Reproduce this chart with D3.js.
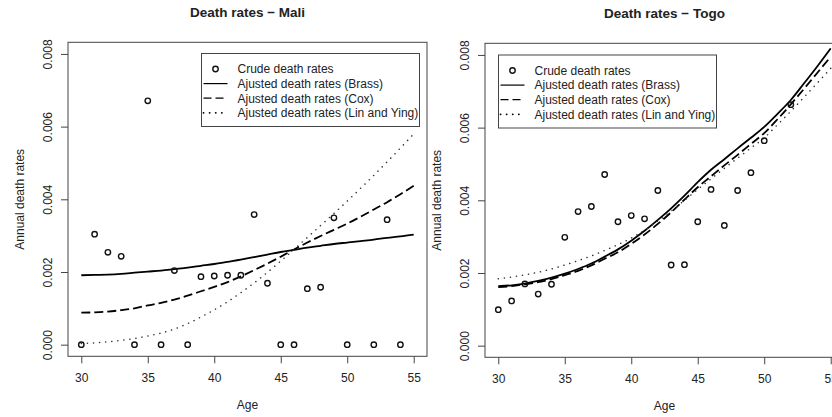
<!DOCTYPE html>
<html>
<head>
<meta charset="utf-8">
<script src="https://cdn.jsdelivr.net/npm/d3@7"></script>
<style>
  body { margin: 0; background: #fff; }
  svg { display: block; font-family: "Liberation Sans", Arial, sans-serif; }
</style>
</head>
<body>
<svg id="chart" width="832" height="417"></svg>
<script>
// ages on the x axis
const ages = d3.range(30, 56);
const xTicks = [30, 35, 40, 45, 50, 55];
const yTicks = [0, 0.002, 0.004, 0.006, 0.008];

// Mali: crude rates (ages with an observed rate) and the three adjusted fits
const maliCrudeAges = [30, 31, 32, 33, 34, 35, 36, 37, 38, 39, 40, 41, 42, 43, 44, 45, 46, 47, 48, 49, 50, 52, 53, 54];
const maliCrude = [0, 0.00304, 0.00254, 0.00243, 0, 0.00671, 0, 0.00204, 0, 0.00187, 0.00189, 0.00191, 0.00191, 0.00358,
  0.00169, 0, 0, 0.00154, 0.00158, 0.00349, 0, 0, 0.00344, 0];
const maliBrass = [0.00191, 0.00192, 0.00193, 0.00195, 0.00198, 0.00201, 0.00204, 0.00208, 0.00212, 0.00217, 0.00222,
  0.00228, 0.00234, 0.00241, 0.00248, 0.00255, 0.00261, 0.00267, 0.00272, 0.00277, 0.00281, 0.00285, 0.00289, 0.00294,
  0.00298, 0.00303];
const maliCox = [0.00088, 0.00089, 0.00091, 0.00095, 0.00100, 0.00108, 0.00115, 0.00124, 0.00135, 0.00147, 0.00159,
  0.00172, 0.00188, 0.00205, 0.00223, 0.00242, 0.00262, 0.00281, 0.00299, 0.00316, 0.00333, 0.00352, 0.00372, 0.00392,
  0.00414, 0.00437];
const maliLinYing = [0.00003, 0.00005, 0.00008, 0.00012, 0.00017, 0.00024, 0.00032, 0.00043, 0.00058, 0.00076, 0.00096,
  0.00118, 0.00143, 0.00170, 0.00199, 0.00230, 0.00262, 0.00295, 0.00328, 0.00361, 0.00395, 0.00430, 0.00466, 0.00503,
  0.00541, 0.00580];

// Togo
const togoCrudeAges = [30, 31, 32, 33, 34, 35, 36, 37, 38, 39, 40, 41, 42, 43, 44, 45, 46, 47, 48, 49, 50, 51, 52];
const togoCrude = [0.00099, 0.00123, 0.00170, 0.00142, 0.00169, 0.00298, 0.00369, 0.00383, 0.00471, 0.00341, 0.00358,
  0.00349, 0.00427, 0.00222, 0.00223, 0.00341, 0.00430, 0.00331, 0.00427, 0.00476, 0.00564, 0.00850, 0.00663];
const togoBrass = [0.00164, 0.00166, 0.00171, 0.00178, 0.00187, 0.00198, 0.00211, 0.00226, 0.00245, 0.00265, 0.00289,
  0.00316, 0.00346, 0.00378, 0.00413, 0.00450, 0.00484, 0.00513, 0.00543, 0.00572, 0.00602, 0.00638, 0.00676, 0.00722,
  0.00769, 0.00818];
const togoCox = [0.00161, 0.00164, 0.00169, 0.00175, 0.00183, 0.00194, 0.00206, 0.00221, 0.00239, 0.00257, 0.00280,
  0.00306, 0.00335, 0.00367, 0.00402, 0.00436, 0.00466, 0.00496, 0.00525, 0.00555, 0.00585, 0.00623, 0.00664, 0.00707,
  0.00751, 0.00795];
const togoLinYing = [0.00184, 0.00189, 0.00195, 0.00202, 0.00211, 0.00222, 0.00234, 0.00247, 0.00262, 0.00278, 0.00296,
  0.00318, 0.00343, 0.00370, 0.00400, 0.00430, 0.00459, 0.00488, 0.00516, 0.00544, 0.00572, 0.00608, 0.00645, 0.00684,
  0.00723, 0.00763];

const legendLabels = ['Crude death rates', 'Ajusted death rates (Brass)', 'Ajusted death rates (Cox)',
  'Ajusted death rates (Lin and Ying)'];

const ink = '#222';
const frame = '#444';
const fontSize = 12;
const lineStyles = [
  { width: 1.8, dash: null },
  { width: 1.8, dash: '9,4' },
  { width: 1.5, dash: '0.1,6', cap: 'round' }
];

const svg = d3.select('#chart');
svg.append('rect').attr('width', 832).attr('height', 417).attr('fill', '#fff');

function drawPanel(p) {
  const x = d3.scaleLinear().domain([29, 56]).range([p.left, p.left + 359]);
  const y = d3.scaleLinear().domain([-0.00032, 0.00832]).range([p.top + 314, p.top]);
  const g = svg.append('g');
  const clipId = 'clip-' + p.id;

  g.append('clipPath').attr('id', clipId)
    .append('rect').attr('x', p.left).attr('y', p.top).attr('width', 359).attr('height', 314);

  // plot frame
  g.append('rect')
    .attr('x', p.left).attr('y', p.top).attr('width', 359).attr('height', 314)
    .attr('fill', 'none').attr('stroke', frame).attr('stroke-width', 1);

  // x axis
  const xa = g.append('g').attr('transform', `translate(0,${p.top + 314})`)
    .call(d3.axisBottom(x).tickValues(xTicks).tickSize(7).tickSizeOuter(0));
  xa.select('.domain').remove();
  xa.selectAll('line').attr('stroke', frame);
  xa.selectAll('text').attr('y', 26).attr('dy', null)
    .attr('font-size', fontSize).attr('fill', ink).attr('font-family', null);

  // y axis with rotated labels, as R draws them
  const ya = g.append('g').attr('transform', `translate(${p.left},0)`)
    .call(d3.axisLeft(y).tickValues(yTicks).tickSize(7).tickSizeOuter(0).tickFormat(d3.format('.3f')));
  ya.select('.domain').remove();
  ya.selectAll('line').attr('stroke', frame);
  ya.selectAll('text').attr('x', null).attr('dy', null)
    .attr('transform', 'translate(-16.3,0) rotate(-90)')
    .attr('text-anchor', 'middle')
    .attr('font-size', fontSize).attr('fill', ink).attr('font-family', null);

  // titles
  g.append('text').attr('x', p.left + 179.5).attr('y', p.top - 25)
    .attr('text-anchor', 'middle').attr('font-size', 13.5).attr('font-weight', 'bold').attr('fill', ink)
    .text(p.title);
  g.append('text').attr('x', p.left + 179.5).attr('y', p.top + 367)
    .attr('text-anchor', 'middle').attr('font-size', fontSize).attr('fill', ink).text('Age');
  g.append('text')
    .attr('transform', `translate(${p.left - 44},${p.top + 157}) rotate(-90)`)
    .attr('text-anchor', 'middle').attr('font-size', fontSize).attr('fill', ink).text('Annual death rates');

  // fitted curves
  const plot = g.append('g').attr('clip-path', `url(#${clipId})`);
  const line = d3.line().x((d, i) => x(ages[i])).y(d => y(d)).curve(d3.curveMonotoneX);
  p.fits.forEach((vals, k) => {
    const s = lineStyles[k];
    plot.append('path').datum(vals)
      .attr('d', line)
      .attr('fill', 'none').attr('stroke', k === 2 ? '#333' : '#000')
      .attr('stroke-width', s.width)
      .attr('stroke-dasharray', s.dash)
      .attr('stroke-linecap', s.cap || 'butt');
  });

  // crude rates
  plot.selectAll('circle').data(p.crude).join('circle')
    .attr('cx', (d, i) => x(p.crudeAges[i]))
    .attr('cy', d => y(d))
    .attr('r', 2.7)
    .attr('fill', 'none').attr('stroke', '#111').attr('stroke-width', 1.4);

  // legend
  const lg = g.append('g').attr('transform', `translate(${p.legendX},${p.legendY})`);
  lg.append('rect').attr('width', 218).attr('height', 73)
    .attr('fill', '#fff').attr('stroke', frame).attr('stroke-width', 1);
  legendLabels.forEach((label, k) => {
    const cy = 15.5 + k * 14.6;
    if (k === 0) {
      lg.append('circle').attr('cx', 14).attr('cy', cy).attr('r', 2.7)
        .attr('fill', 'none').attr('stroke', '#111').attr('stroke-width', 1.4);
    } else {
      const s = lineStyles[k - 1];
      lg.append('line').attr('x1', 2).attr('x2', 26).attr('y1', cy).attr('y2', cy)
        .attr('stroke', '#000').attr('stroke-width', k === 3 ? 1.8 : 1.2)
        .attr('stroke-dasharray', k === 2 ? '8,4' : s.dash)
        .attr('stroke-linecap', s.cap || 'butt');
    }
    lg.append('text').attr('x', 36).attr('y', cy + 4.3).attr('font-size', fontSize).attr('fill', ink).text(label);
  });
}

drawPanel({
  id: 'mali', title: 'Death rates \u2212 Mali', left: 68, top: 42.3,
  crudeAges: maliCrudeAges, crude: maliCrude, fits: [maliBrass, maliCox, maliLinYing],
  legendX: 201.5, legendY: 53.5
});
drawPanel({
  id: 'togo', title: 'Death rates \u2212 Togo', left: 485, top: 43.3,
  crudeAges: togoCrudeAges, crude: togoCrude, fits: [togoBrass, togoCox, togoLinYing],
  legendX: 498.5, legendY: 55
});
</script>
</body>
</html>
